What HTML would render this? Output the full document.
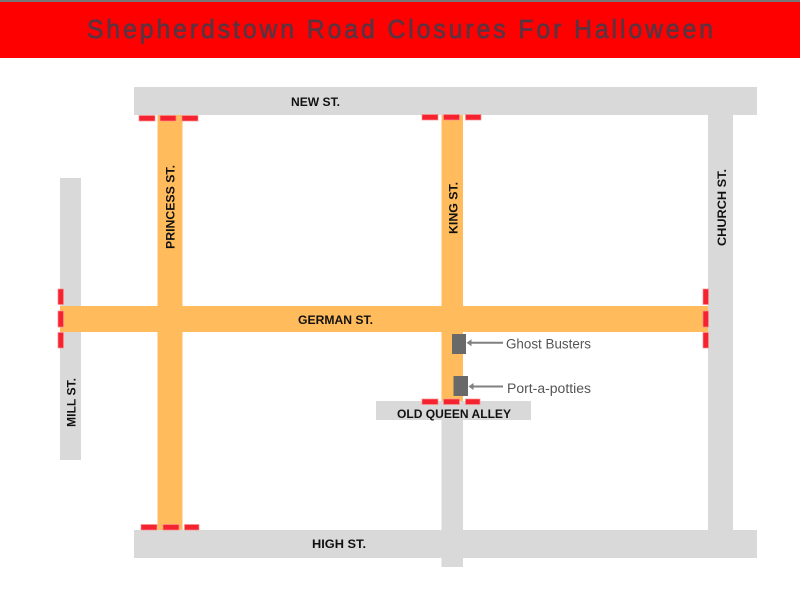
<!DOCTYPE html>
<html>
<head>
<meta charset="utf-8">
<title>Shepherdstown Road Closures For Halloween</title>
<style>
html,body{margin:0;padding:0;background:#fff;width:800px;height:608px;overflow:hidden}
svg{display:block}
text{font-family:"Liberation Sans",sans-serif}
.l{font-weight:bold;font-size:12px;fill:#111;text-anchor:middle}
.n{font-size:13.5px;fill:#555}
.r{fill:#f5222f;stroke:#fb8f8f;stroke-width:.7}
</style>
</head>
<body>
<svg width="800" height="608" viewBox="0 0 800 608" xmlns="http://www.w3.org/2000/svg">
<rect x="0" y="0" width="800" height="608" fill="#fff"/>
<rect x="0" y="0" width="800" height="2" fill="#777"/>
<rect x="0" y="2" width="800" height="56" fill="#ff0000"/>
<text transform="translate(87,38) scale(.95,1)" x="0" y="0" font-size="26" textLength="659" lengthAdjust="spacing" fill="#5d3340" stroke="#5d3340" stroke-width=".7">Shepherdstown Road Closures For Halloween</text>

<g fill="#d9d9d9">
<rect x="134" y="87" width="623" height="28"/>
<rect x="708" y="115" width="25" height="415"/>
<rect x="134" y="530" width="623" height="28"/>
<rect x="60" y="178" width="21" height="282"/>
<rect x="441.5" y="420" width="21.5" height="147"/>
<rect x="376" y="401" width="155" height="19"/>
</g>
<g fill="#ffbb5c">
<rect x="157.500" y="115" width="25" height="415"/>
<rect x="441.500" y="115" width="21.500" height="286"/>
<rect x="60" y="306" width="648" height="26"/>
</g>

<rect class="r" x="139" y="115.500" width="16" height="5.500"/>
<rect class="r" x="160" y="115.500" width="16" height="5.500"/>
<rect class="r" x="182" y="115.500" width="16" height="5.500"/>
<rect class="r" x="422" y="114.500" width="16" height="5.500"/>
<rect class="r" x="443.500" y="114.500" width="16" height="5.500"/>
<rect class="r" x="465.500" y="114.500" width="15.500" height="5.500"/>
<rect class="r" x="141" y="524.500" width="16" height="5.500"/>
<rect class="r" x="163" y="524.500" width="16" height="5.500"/>
<rect class="r" x="184.500" y="524.500" width="14.500" height="5.500"/>
<rect class="r" x="422" y="399" width="16" height="5.500"/>
<rect class="r" x="443.500" y="399" width="16" height="5.500"/>
<rect class="r" x="465.500" y="399" width="14.500" height="5.500"/>
<rect class="r" x="58" y="289" width="5.500" height="15.500"/>
<rect class="r" x="58" y="311" width="5.500" height="16"/>
<rect class="r" x="58" y="332.500" width="5.500" height="15.500"/>
<rect class="r" x="703" y="289" width="5.500" height="15.500"/>
<rect class="r" x="703" y="311" width="5.500" height="16"/>
<rect class="r" x="703" y="332.500" width="5.500" height="15.500"/>

<rect x="452" y="334" width="14" height="20" fill="#696969"/>
<rect x="453.500" y="376" width="14.500" height="20" fill="#696969"/>
<g stroke="#808080" stroke-width="2" fill="#808080">
<line x1="503" y1="342.700" x2="470" y2="342.700"/>
<path d="M466.500 342.700l5-3.500v7z" stroke="none"/>
<line x1="503" y1="386.500" x2="472" y2="386.500"/>
<path d="M468.500 386.500l5-3.500v7z" stroke="none"/>
</g>
<text class="n" x="506" y="348.500" textLength="85" lengthAdjust="spacingAndGlyphs">Ghost Busters</text>
<text class="n" x="507" y="393" textLength="84" lengthAdjust="spacingAndGlyphs">Port-a-potties</text>

<text class="l" x="315.500" y="106" textLength="49" lengthAdjust="spacingAndGlyphs">NEW ST.</text>
<text class="l" x="335.500" y="324" textLength="75" lengthAdjust="spacingAndGlyphs">GERMAN ST.</text>
<text class="l" x="339" y="548" textLength="54" lengthAdjust="spacingAndGlyphs">HIGH ST.</text>
<text class="l" x="454" y="418" textLength="114" lengthAdjust="spacingAndGlyphs">OLD QUEEN ALLEY</text>
<text class="l" transform="translate(174.500,207) rotate(-90)" textLength="84" lengthAdjust="spacingAndGlyphs">PRINCESS ST.</text>
<text class="l" transform="translate(457.500,208) rotate(-90)" textLength="52" lengthAdjust="spacingAndGlyphs">KING ST.</text>
<text class="l" transform="translate(726,207.500) rotate(-90)" textLength="77" lengthAdjust="spacingAndGlyphs">CHURCH ST.</text>
<text class="l" transform="translate(75.500,402.500) rotate(-90)" textLength="49" lengthAdjust="spacingAndGlyphs">MILL ST.</text>
</svg>
</body>
</html>
